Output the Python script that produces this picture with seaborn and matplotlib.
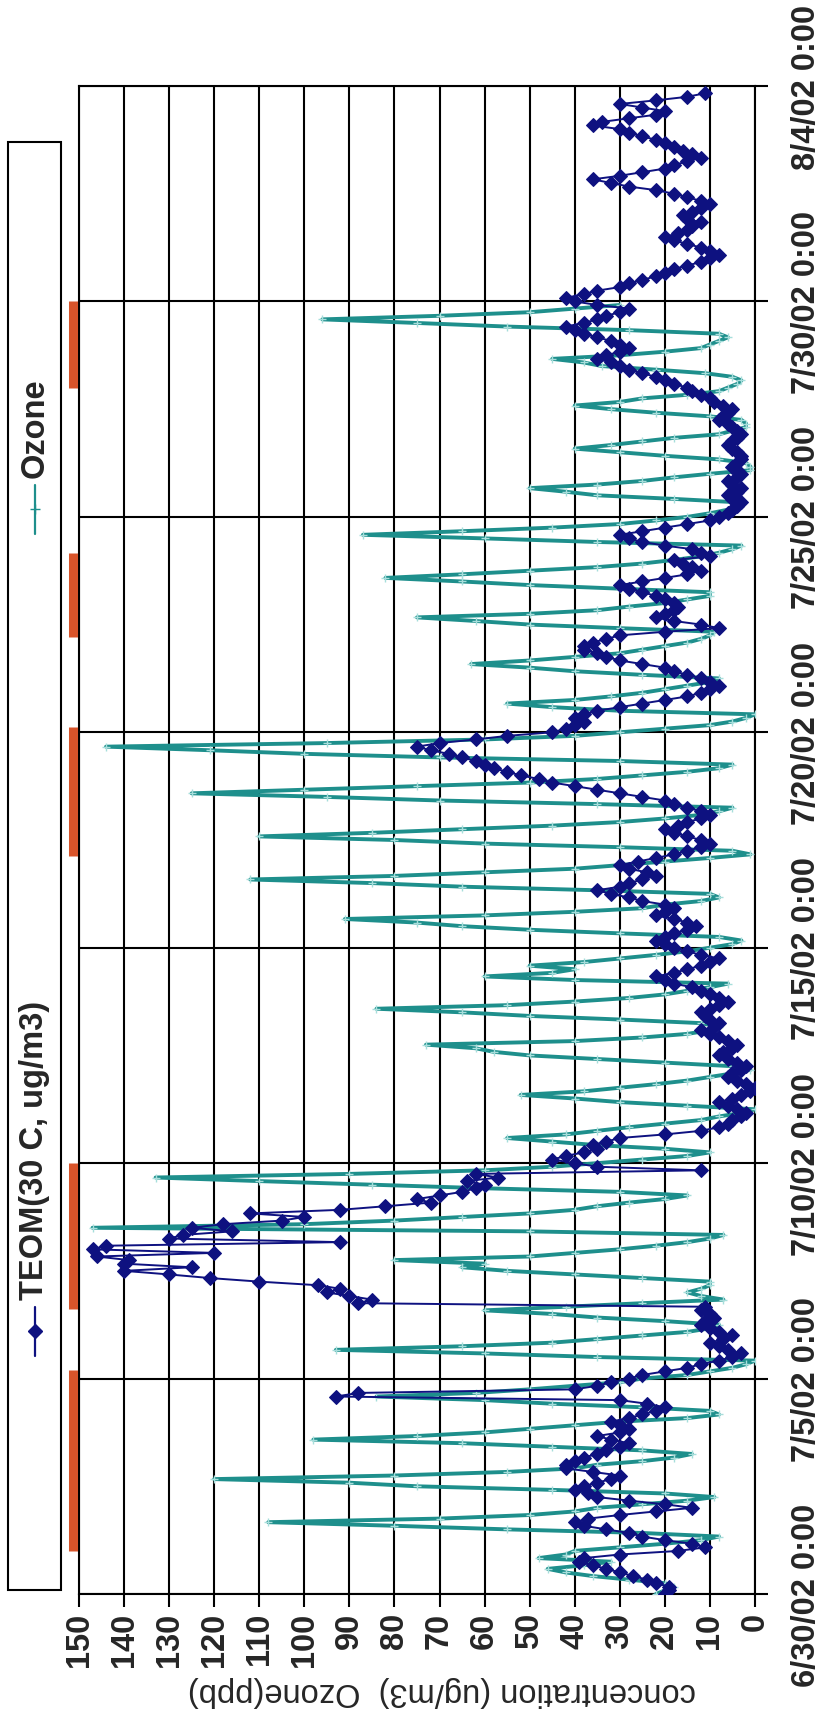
import numpy as np
import pandas as pd
import matplotlib
matplotlib.use("Agg")
import matplotlib.pyplot as plt
import matplotlib.transforms as mtrans
from matplotlib.patches import Rectangle
from matplotlib.lines import Line2D
import seaborn as sns

# ---------------- data ----------------
start_date = "2002-06-30"
date_labels = ["6/30/02 0:00", "7/5/02 0:00", "7/10/02 0:00", "7/15/02 0:00",
               "7/20/02 0:00", "7/25/02 0:00", "7/30/02 0:00", "8/4/02 0:00"]
value_ticks = list(range(0, 151, 10))
series_names = ["TEOM(30 C, ug/m3)", "Ozone"]
axis_title = "concentration (ug/m3)  Ozone(ppb)"
step_hours = 2

# Ozone (ppb), 2-hourly from 6/30 0:00 (one row per day, 0h..22h)
ozone = [
    22, 20, 18, 20, 28, 36, 42, 46, 38, 32, 48, 42,       # 6/30
    40, 30, 20, 12, 8, 25, 55, 80, 108, 70, 50, 40,       # 7/1
    35, 25, 15, 9, 20, 45, 75, 90, 120, 80, 55, 40,       # 7/2
    35, 25, 18, 14, 25, 45, 65, 98, 75, 60, 50, 40,       # 7/3
    30, 15, 8, 10, 25, 45, 60, 84, 62, 50, 40, 30,        # 7/4
    25, 15, 10, 5, 2, 0, 35, 60, 93, 65, 45, 35,          # 7/5
    25, 15, 10, 8, 20, 35, 45, 60, 42, 25, 7, 12,         # 7/6
    15, 12, 10, 10, 25, 40, 55, 65, 60, 80, 50, 40,       # 7/7
    30, 22, 15, 10, 7, 50, 147, 100, 80, 65, 50, 40,      # 7/8
    35, 28, 20, 15, 30, 60, 85, 110, 133, 90, 60, 45,     # 7/9
    35, 25, 15, 10, 20, 35, 45, 55, 42, 35, 28, 20,       # 7/10
    12, 8, 3, 0, 15, 30, 40, 52, 38, 30, 22, 15,          # 7/11
    10, 5, 1, 5, 20, 35, 50, 58, 62, 73, 40, 25,          # 7/12
    15, 10, 8, 12, 30, 50, 65, 84, 55, 40, 28, 20,        # 7/13
    15, 10, 6, 40, 60, 45, 40, 50, 38, 30, 22, 15,        # 7/14
    10, 5, 3, 8, 30, 50, 65, 75, 91, 60, 40, 25,          # 7/15
    20, 12, 8, 10, 35, 65, 85, 112, 80, 60, 40, 30,       # 7/16
    20, 10, 1, 5, 30, 60, 80, 110, 85, 65, 45, 30,        # 7/17
    20, 12, 8, 5, 35, 70, 95, 125, 100, 75, 50, 35,       # 7/18
    25, 15, 8, 5, 30, 70, 100, 121, 144, 95, 60, 40,      # 7/19
    30, 20, 10, 5, 2, 0, 30, 45, 55, 40, 32, 25,          # 7/20
    20, 15, 10, 8, 25, 40, 50, 63, 50, 40, 30, 25,        # 7/21
    20, 15, 12, 10, 9, 30, 50, 62, 75, 50, 35, 28,        # 7/22
    20, 15, 10, 10, 30, 50, 65, 82, 65, 50, 35, 25,       # 7/23
    18, 12, 8, 5, 3, 35, 60, 87, 65, 45, 30, 22,          # 7/24
    15, 10, 6, 4, 3, 18, 35, 42, 50, 35, 25, 18,          # 7/25
    10, 1, 1, 2, 8, 20, 30, 40, 32, 25, 18, 8,            # 7/26
    5, 2, 2, 3, 10, 22, 32, 40, 30, 25, 15, 8,            # 7/27
    6, 4, 3, 5, 11, 22, 34, 38, 45, 30, 20, 12,           # 7/28
    10, 8, 6, 8, 28, 55, 75, 96, 70, 50, 40, 30,          # 7/29
]

# TEOM PM mass (ug/m3), 2-hourly from 6/30 0:00 (nan = no data)
teom = [
    20, 19, 19, 22, 24, 27, 30, 33, 36, 39, 38, 30,       # 6/30
    17, 11, 14, 20, 25, 28, 33, 38, 40, 37, 30, 22,       # 7/1
    14, 20, 28, 35, 37, 40, 38, 35, 32, 30, 36, 42,       # 7/2
    42, 40, 38, 35, 33, 30, 28, 32, 35, 30, 28, 30,       # 7/3
    32, 28, 25, 22, 20, 24, 30, 93, 88, 40, 35, 32,       # 7/4
    28, 25, 20, 15, 12, 8, 5, 3, 6, 8, 10, 7,             # 7/5
    5, 8, 10, 12, 11, 9, 10, 12, 11, 88, 85, 90,          # 7/6
    95, 92, 97, 110, 121, 130, 140, 125, 140, 139, 146, 120,  # 7/7
    147, 144, 92, 130, 127, 116, 125, 118, 105, 100, 112, 92,  # 7/8
    82, 72, 75, 70, 65, 62, 60, 64, 57, 62, 12, 35,       # 7/9
    40, 45, 42, 38, 35, 36, 33, 30, 20, 12, 8, 6,         # 7/10
    5, 3, 2, 4, 6, 8, 5, 3, 1, 0, 2, 4,                   # 7/11
    6, 5, 3, 2, 4, 6, 8, 7, 5, 4, 6, 8,                   # 7/12
    10, 12, 9, 8, 10, 11, 12, 10, 8, 6, 8, 10,            # 7/13
    12, 14, 18, 20, 22, 18, 15, 12, 10, 8, 12, 15,        # 7/14
    18, 20, 22, 20, 18, 15, 13, 15, 18, 22, 20, 18,       # 7/15
    20, 25, 28, 32, 35, 30, 28, 25, 22, 24, 28, 30,       # 7/16
    26, 22, 18, 15, 12, 10, 12, 15, 18, 20, 17, 15,       # 7/17
    12, 10, 12, 15, 18, 20, 25, 30, 35, 40, 45, 48,       # 7/18
    52, 55, 58, 60, 62, 65, 68, 72, 75, 70, 62, 55,       # 7/19
    45, 42, 40, 38, 40, 38, 35, 30, 25, 20, 15, 12,       # 7/20
    10, 8, 10, 12, 15, 18, 20, 25, 30, 33, 35, 38,        # 7/21
    38, 36, 33, 30, 20, 8, 12, 18, 22, 20, 18, 17,        # 7/22
    18, 20, 22, 25, 28, 30, 25, 20, 15, 12, 14, 16,       # 7/23
    18, 10, 12, 14, 20, 25, 28, 30, 25, 20, 15, 10,       # 7/24
    8, 6, 5, 4, 3, 5, 6, 4, 3, 5, 6, 4,                   # 7/25
    3, 4, 5, 4, 3, 3, 4, 5, 6, 5, 4, 3,                   # 7/26
    4, 5, 6, 8, 7, 6, 5, 7, 9, 10, 12, 14,                # 7/27
    15, 18, 20, 22, 25, 28, 30, 32, 35, 33, 30, 28,       # 7/28
    30, 32, 35, 38, 40, 42, 38, 35, 33, 30, 28, 35,       # 7/29
    40, 42, 38, 35, 30, 28, 25, 22, 20, 18, 15, 12,       # 7/30
    10, 8, 10, 12, 15, 18, 20, 17, 15, 14, 12, 15,        # 7/31
    16, 14, 12, 10, 12, 15, 18, 22, 28, 32, 36, 30,       # 8/1
    25, 20, 18, 15, 12, 14, 16, 18, 20, 22, 25, 28,       # 8/2
    30, 36, 34, 28, 22, 20, 25, 30, 22, 15, 11, np.nan,   # 8/3
]

# high-episode bars
episode_start = ["2002-07-01 00:00", "2002-07-06 15:00", "2002-07-17 03:00",
                 "2002-07-22 05:00", "2002-07-28 00:00"]
episode_end = ["2002-07-05 05:00", "2002-07-10 00:00", "2002-07-20 03:00",
               "2002-07-24 04:00", "2002-07-30 00:00"]

# ---------------- helpers ----------------
t0 = pd.Timestamp(start_date)


def to_days(ts):
    return (pd.to_datetime(ts) - t0) / pd.Timedelta(days=1)


def as_frame(vals):
    idx = t0 + pd.to_timedelta(np.arange(len(vals)) * step_hours, unit="h")
    return pd.DataFrame({"value": vals, "day": to_days(idx)})


oz_df = as_frame(ozone)
pm_df = as_frame(teom)

# ---------------- figure ----------------
W, H = 825, 1715
DPI = 100
sns.set_theme(style="white")
plt.rcParams["font.family"] = ["Liberation Sans", "DejaVu Sans"]

fig = plt.figure(figsize=(W / DPI, H / DPI), dpi=DPI)
L, R, T, B = 79, 755, 87, 1595
ax = fig.add_axes([L / W, 1 - B / H, (R - L) / W, (B - T) / H])
ax.set_facecolor("white")

TEAL = "#1E8F8C"
NAVY = "#0E1180"
ORANGE = "#D8542A"
FS = 23.5

sns.lineplot(data=oz_df, x="value", y="day", sort=False, estimator=None,
             orient="y", ax=ax, color=TEAL, lw=2.8, marker="+", ms=6,
             mew=1.0, mec="#A6DEDB", zorder=3)
sns.lineplot(data=pm_df, x="value", y="day", sort=False, estimator=None,
             orient="y", ax=ax, color=NAVY, lw=1.4, marker="D", ms=7,
             mec=NAVY, zorder=4)

ax.set_xlim(150, 0)
ax.set_ylim(0, 35)
ax.set_xticks(value_ticks)
ax.set_xticklabels([str(v) for v in value_ticks])
ax.set_yticks(list(range(0, 36, 5)))
ax.set_yticklabels(date_labels)
ax.yaxis.tick_right()
ax.grid(True, color="black", lw=1.5)
ax.set_axisbelow(True)
for s in ax.spines.values():
    s.set_color("black")
    s.set_linewidth(1.5)
ax.set_xlabel("")
ax.set_ylabel("")

ax.tick_params(axis="x", direction="out", length=9, width=1.5, color="black",
               bottom=True, pad=4, labelsize=FS, labelrotation=90)
ax.tick_params(axis="y", direction="out", length=9, width=1.5, color="black",
               right=True, left=False, pad=17, labelsize=FS, labelrotation=90)
for lab in ax.get_xticklabels():
    lab.set_fontweight("bold")
    lab.set_ha("center")
    lab.set_va("top")
for lab in ax.get_yticklabels():
    lab.set_fontweight("bold")
    lab.set_va("center")
    lab.set_ha("left")

# axis title (upside-down, as in the rotated original)
fig.text(442 / W, 1 - 1692 / H, axis_title, rotation=180, ha="center",
         va="center", fontsize=FS)

# episode bars outside the left of the plot
tr = mtrans.blended_transform_factory(ax.transAxes, ax.transData)
bx = (72.5 - L) / (R - L)
for s_, e_ in zip(to_days(episode_start), to_days(episode_end)):
    ax.plot([bx, bx], [s_, e_], transform=tr, color=ORANGE, lw=6.5,
            solid_capstyle="butt", clip_on=False, zorder=5)


# legend (drawn rotated, like the original)
def fx(x):
    return x / W


def fy(y):
    return 1 - y / H


LEG_TOP, LEG_BOT = 143, 1591
fig.patches.append(Rectangle((fx(8), fy(LEG_BOT)), (61 - 8) / W,
                             (LEG_BOT - LEG_TOP) / H,
                             transform=fig.transFigure, facecolor="white",
                             edgecolor="black", lw=1.5))
lx = 35
# TEOM entry
fig.lines.append(Line2D([fx(lx), fx(lx)], [fy(1357), fy(1308)],
                        transform=fig.transFigure, color=NAVY, lw=1.6))
fig.lines.append(Line2D([fx(lx)], [fy(1332)], transform=fig.transFigure,
                        color=NAVY, marker="D", ms=7, lw=0))
fig.text(fx(lx), fy(1300), series_names[0], rotation=90, ha="center",
         va="bottom", fontsize=FS, fontweight="bold")
# Ozone entry
fig.lines.append(Line2D([fx(lx), fx(lx)], [fy(535), fy(486)],
                        transform=fig.transFigure, color=TEAL, lw=1.6))
fig.lines.append(Line2D([fx(lx)], [fy(510)], transform=fig.transFigure,
                        color=TEAL, marker="+", ms=7, lw=0))
fig.text(fx(lx), fy(478), series_names[1], rotation=90, ha="center",
         va="bottom", fontsize=FS, fontweight="bold")

fig.savefig("out.png", dpi=DPI, facecolor="white")
